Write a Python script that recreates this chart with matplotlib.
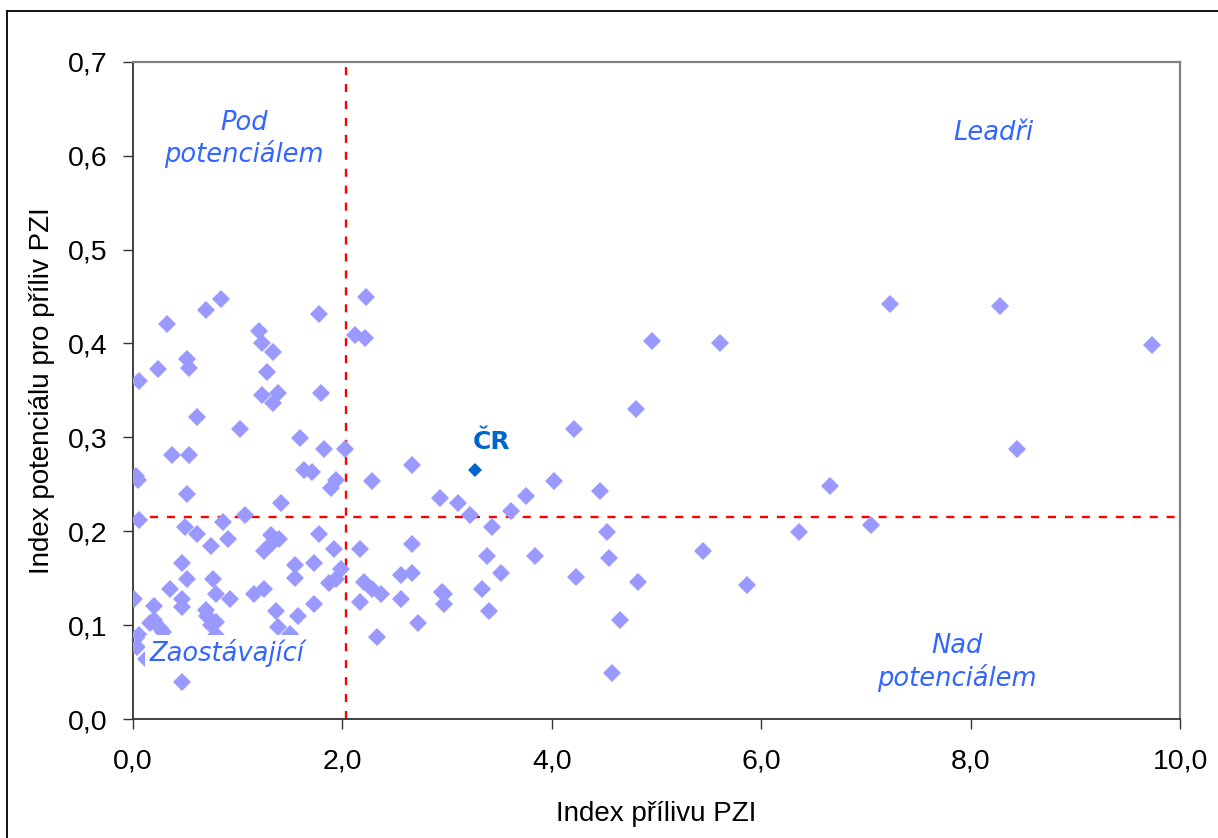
import matplotlib
matplotlib.use("Agg")
import matplotlib.pyplot as plt
from matplotlib.lines import Line2D

plt.rcParams['lines.scale_dashes'] = False

# ---- data ----
x_vals = [0.06, 0.24, 0.33, 0.70, 0.84, 0.52, 0.54, 0.61, 0.38, 0.54,
          0.05, 0.03, 0.52, 1.02, 1.21, 1.23, 1.34, 1.28, 1.23, 1.39,
          1.34, 1.78, 1.80, 1.60, 1.83, 2.03, 1.64, 1.71, 1.94, 1.89,
          1.42, 0.06, 1.07, 0.50, 0.61, 0.86, 0.91, 0.75, 1.32, 1.40,
          1.33, 1.25, 1.78, 1.92, 0.47, 0.52, 0.77, 0.36, 0.01, 0.47,
          0.47, 0.20, 0.80, 0.93, 1.16, 1.25, 1.55, 1.73, 1.55, 1.99,
          1.87, 1.94, 0.70, 0.71, 1.73, 1.37, 1.58, 0.20, 0.17, 0.26,
          0.29, 0.75, 0.80, 1.39, 1.50, 0.06, 0.04, 0.13, 0.47, 0.80,
          2.12, 2.22, 2.23, 2.28, 2.17, 2.21, 2.17, 4.96, 4.80, 4.21,
          2.67, 4.02, 4.46, 2.93, 3.11, 3.75, 3.61, 3.22, 3.43, 4.53,
          2.67, 3.38, 3.84, 4.55, 2.56, 2.67, 3.52, 4.23, 4.82, 2.28,
          2.37, 2.56, 2.95, 2.97, 2.97, 3.33, 3.40, 2.72, 2.33, 4.65,
          4.58, 5.61, 7.23, 8.28, 9.73, 8.44, 6.66, 7.05, 6.36, 5.44,
          5.86]
y_vals = [0.360, 0.373, 0.421, 0.436, 0.447, 0.383, 0.374, 0.322, 0.281, 0.281,
          0.255, 0.259, 0.240, 0.309, 0.413, 0.401, 0.391, 0.370, 0.345, 0.347,
          0.337, 0.431, 0.347, 0.299, 0.288, 0.288, 0.265, 0.263, 0.255, 0.246,
          0.230, 0.212, 0.217, 0.204, 0.197, 0.210, 0.192, 0.184, 0.196, 0.192,
          0.187, 0.179, 0.197, 0.181, 0.166, 0.149, 0.149, 0.138, 0.128, 0.128,
          0.119, 0.120, 0.133, 0.128, 0.133, 0.138, 0.164, 0.166, 0.150, 0.160,
          0.145, 0.149, 0.116, 0.110, 0.123, 0.115, 0.110, 0.105, 0.102, 0.097,
          0.093, 0.100, 0.103, 0.098, 0.091, 0.090, 0.077, 0.064, 0.039, 0.089,
          0.409, 0.406, 0.450, 0.253, 0.181, 0.146, 0.125, 0.403, 0.330, 0.309,
          0.271, 0.253, 0.243, 0.235, 0.230, 0.238, 0.222, 0.217, 0.205, 0.199,
          0.186, 0.174, 0.174, 0.171, 0.153, 0.156, 0.156, 0.151, 0.146, 0.138,
          0.133, 0.128, 0.135, 0.133, 0.122, 0.138, 0.115, 0.102, 0.087, 0.105,
          0.049, 0.401, 0.442, 0.440, 0.398, 0.288, 0.248, 0.207, 0.199, 0.179,
          0.143]
cr_x = [3.27]
cr_y = [0.265]
cr_label = "ČR"
x_avg = 2.04
y_avg = 0.215
x_ticks = [0, 2, 4, 6, 8, 10]
x_tick_labels = ["0,0", "2,0", "4,0", "6,0", "8,0", "10,0"]
y_ticks = [0.0, 0.1, 0.2, 0.3, 0.4, 0.5, 0.6, 0.7]
y_tick_labels = ["0,0", "0,1", "0,2", "0,3", "0,4", "0,5", "0,6", "0,7"]
quadrant_labels = ["Pod\npotenciálem", "Leadři", "Zaostávající", "Nad\npotenciálem"]
quadrant_pos = [(1.06, 0.618), (8.22, 0.624), (0.90, 0.070), (7.87, 0.060)]
x_label = "Index přílivu PZI"
y_label = "Index potenciálu pro příliv PZI"

# ---- figure ----
fig = plt.figure(figsize=(12.18, 8.38), dpi=100)
fig.patch.set_facecolor("white")
ax = fig.add_axes([0.1089, 0.142, 0.8602, 0.7842])

# outer frame (left and top visible)
fig.add_artist(Line2D([7.3/1218, 7.3/1218], [0, 1 - 11.3/838], transform=fig.transFigure,
                      color="black", lw=1.3))
fig.add_artist(Line2D([7.3/1218, 1.0], [1 - 11.3/838, 1 - 11.3/838], transform=fig.transFigure,
                      color="black", lw=1.3))

ax.plot(x_vals, y_vals, linestyle="none", marker="D", ms=9.0, mew=0,
        color="#9999FF", zorder=3)
ax.plot(cr_x, cr_y, linestyle="none", marker="D", ms=7.5, mew=0,
        color="#0066CC", zorder=4)
ax.annotate(cr_label, (cr_x[0], cr_y[0]), xytext=(12, 20.5), textcoords="offset points",
            ha="center", va="center", fontsize=18, fontweight="bold",
            color="#0066CC", family="DejaVu Sans")

ax.axvline(x_avg, color="#FF0000", lw=1.7, dashes=(5.8, 6.4), zorder=2)
ax.axhline(y_avg, color="#FF0000", lw=1.7, dashes=(5.8, 6.4), zorder=2)

for lab, (px, py) in zip(quadrant_labels, quadrant_pos):
    kw = {}
    if lab == "Zaostávající":
        kw["bbox"] = dict(facecolor="white", edgecolor="none", pad=3)
    ax.text(px, py, lab, ha="center", va="center", fontsize=18.5, style="italic",
            color="#3366FF", family="DejaVu Sans", linespacing=1.2, zorder=5, **kw)

ax.set_xlim(0, 10)
ax.set_ylim(0, 0.7)
ax.set_xticks(x_ticks)
ax.set_xticklabels(x_tick_labels)
ax.set_yticks(y_ticks)
ax.set_yticklabels(y_tick_labels)
ax.tick_params(axis="both", direction="out", length=7.2, width=1.0, colors="#333333",
               labelcolor="black", labelsize=20.5, pad=11)
ax.tick_params(axis="x", pad=14)
for lab in ax.get_xticklabels() + ax.get_yticklabels():
    lab.set_family("Liberation Sans")

for side in ["left", "bottom"]:
    ax.spines[side].set_color("#333333")
    ax.spines[side].set_linewidth(1.3)
for side in ["top", "right"]:
    ax.spines[side].set_color("#808080")
    ax.spines[side].set_linewidth(1.6)

ax.set_xlabel(x_label, fontsize=20, family="Liberation Sans", labelpad=19)
ax.set_ylabel(y_label, fontsize=20, family="Liberation Sans", labelpad=9)

fig.savefig("out.png", dpi=100, facecolor="white")
